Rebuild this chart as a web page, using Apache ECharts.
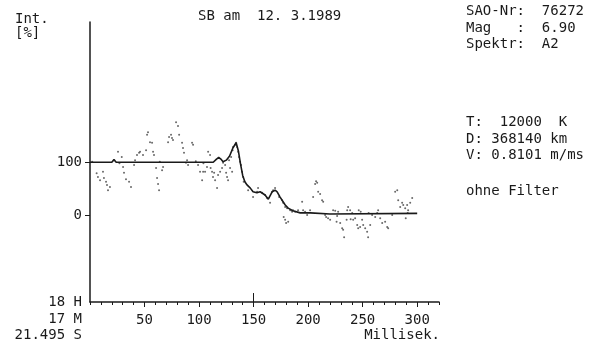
<!DOCTYPE html>
<html><head><meta charset="utf-8">
<script src="https://cdn.jsdelivr.net/npm/echarts@6/dist/echarts.min.js"></script>
<style>html,body{margin:0;padding:0;background:#fff}#c{width:596px;height:345px}</style>
</head><body><div id="c"></div>
<script>
// Fitted model curve (ms, intensity %)
const fitMs  = [0, 20, 22, 24, 113, 116, 118, 120, 122, 125, 128, 131, 134, 136, 138, 140, 142, 144, 147, 149.5, 153, 156, 160.5, 163.5, 167, 169.7, 171.6, 174.3, 179, 181.7, 186, 192.7, 202, 220, 300];
const fitVal = [100, 100, 105, 100, 100, 106, 109, 106, 101, 104, 112, 127, 137, 122, 97, 75, 63, 57, 51, 44, 42, 44, 38, 30, 44, 47, 44, 34, 19, 13, 8, 4, 4, 2, 3];

// Measured points (ms, intensity %)
const dotMs = [6.1,7.3,9.2,11.9,12.8,14.7,15.6,16.5,18.3,25.7,29.1,30.3,31.2,33,35.8,37.6,40.4,41.3,43.1,45,45.9,48.6,51.4,52.3,53.2,55,56.9,57.8,58.7,60.6,61.5,62.4,63.3,66.1,67,71.6,72.5,74.3,75.2,76.1,78.9,80.7,81.7,84.4,85.3,86.2,89,89.9,93.6,94.5,99.1,100.9,102.8,103.7,105.5,107.3,108.3,110.1,110.6,111.9,112.8,113.8,114.7,116.5,117.4,119.3,121.1,122,123.9,124.8,125.7,126.6,127.5,128.4,129.4,130.3,130.8,131.2,133,134,134.9,135.8,136.7,137.6,138.5,139.4,140.4,140.9,145,149.5,153.2,154.1,157.8,160.6,162.4,165.1,167,167.9,169.7,173.4,176.1,177.1,178.9,180.7,177.6,178.9,179.8,181.7,183.5,185.3,186.2,188.1,190.8,194.5,195.4,197.2,199.1,201.8,204.6,206.4,207.3,208.3,209.2,211,212.8,213.8,215.6,216.5,218.3,220.2,222.9,224.8,226.6,227.5,226.1,229.4,231.2,232.1,233,235.8,236.7,238.5,240.4,235.3,239,241.3,243.1,245,245.9,247.7,249.5,250.5,252.3,254.1,255,256.9,246.4,248.2,255.5,258.7,261.5,263.3,264.2,266.1,267.9,270.6,272.5,273.4,277.1,279.8,281.7,282.6,284.4,286.2,287.2,289,290.8,291.7,293.6,295.4,291.3,289.5,2,27,64,88,97,104];
const dotVal = [79,72,66,82,70,63,57,47,53,120,110,91,80,68,63,53,95,104,114,118,120,114,123,152,157,138,137,120,114,89,70,59,47,85,91,138,148,152,146,142,176,169,152,137,127,118,104,95,137,133,95,82,66,82,82,91,120,114,89,82,72,80,66,51,76,82,89,99,95,80,72,66,104,89,110,82,123,129,133,137,129,120,110,101,95,82,72,63,47,34,44,51,42,38,32,23,44,47,51,34,28,23,15,13,-4,-9,-15,-13,9,6,9,6,9,25,9,6,0,9,34,59,64,61,44,40,28,25,0,-4,-6,-9,9,8,-2,6,-13,-15,-25,-28,-42,9,15,9,4,-9,-8,-9,-6,-19,-25,-23,-9,-19,-25,-32,-42,-19,9,6,4,0,-4,4,9,-6,-15,-13,-23,-25,0,44,47,28,15,23,19,13,19,9,23,32,4,-6,101,98,101,99,102,98];

// Axis ticks
const xTickValues = [50, 100, 150, 200, 250, 300];
const yTickValues = [0, 100];
const eventMark = 150;

const FONT = "'DejaVu Sans Mono', 'Liberation Mono', monospace";
const INK = '#1a1a1a';

const chart = echarts.init(document.getElementById('c'), null, {renderer: 'canvas'});

function txt(text, x, y, align) {
  return {type: 'text', x: x, y: y, silent: true,
    style: {text: text, font: "14px " + FONT, fill: INK, align: align || 'left', verticalAlign: 'middle'}};
}

chart.setOption({
  animation: false,
  backgroundColor: '#ffffff',
  grid: {left: 90, right: 157, top: 22, bottom: 43, containLabel: false},
  xAxis: [
    {type: 'value', min: 0, max: 320, interval: 10, position: 'bottom',
     axisLine: {show: true, onZero: false, lineStyle: {color: INK, width: 1.5}},
     axisTick: {show: true, length: 3, lineStyle: {color: INK, width: 1}},
     axisLabel: {show: false}, splitLine: {show: false}},
    {type: 'value', min: 0, max: 320, position: 'bottom', offset: 0,
     axisLine: {show: false, onZero: false},
     axisTick: {show: true, length: 5, customValues: xTickValues, lineStyle: {color: INK, width: 1}},
     axisLabel: {show: true, customValues: xTickValues, margin: 11, color: INK, fontFamily: FONT, fontSize: 14},
     splitLine: {show: false}}
  ],
  yAxis: {type: 'value', min: -165, max: 366,
    axisLine: {show: true, onZero: false, lineStyle: {color: INK, width: 1.5}},
    axisTick: {show: true, length: 5, customValues: yTickValues, lineStyle: {color: INK, width: 1}},
    axisLabel: {show: true, customValues: yTickValues, margin: 8, color: INK, fontFamily: FONT, fontSize: 14},
    splitLine: {show: false}},
  series: [
    {type: 'scatter', xAxisIndex: 0, symbol: 'circle', symbolSize: 2,
     itemStyle: {color: '#444'}, silent: true,
     data: dotMs.map((m, i) => [m, dotVal[i]])},
    {type: 'line', xAxisIndex: 0, showSymbol: false, silent: true,
     lineStyle: {color: INK, width: 1.6},
     data: fitMs.map((m, i) => [m, fitVal[i]]),
     markLine: {silent: true, symbol: 'none', label: {show: false},
       lineStyle: {color: INK, width: 1, type: 'solid'},
       data: [[{coord: [eventMark, -165]}, {coord: [eventMark, -148]}]]}}
  ],
  graphic: [
    txt('Int.', 15, 19),
    txt('[%]', 15, 33),
    txt('SB am  12. 3.1989', 198, 16),
    txt('SAO-Nr:  76272', 466, 11),
    txt('Mag   :  6.90', 466, 28),
    txt('Spektr:  A2', 466, 44),
    txt('T:  12000  K', 466, 122),
    txt('D: 368140 km', 466, 139),
    txt('V: 0.8101 m/ms', 466, 155),
    txt('ohne Filter', 466, 191),
    txt('18 H', 82, 302, 'right'),
    txt('17 M', 82, 319, 'right'),
    txt('21.495 S', 82, 335, 'right'),
    txt('Millisek.', 440, 335, 'right')
  ]
});
</script></body></html>
